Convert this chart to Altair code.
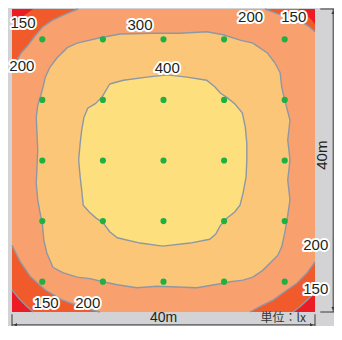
import altair as alt
import pandas as pd

# ---------------- data (metres, y measured from the top wall) ----------------
room_size = 40

pt_x = [4, 12, 20, 28, 36]
pt_y = [4, 12, 20, 28, 36]

# closed iso-lux contours
c400 = [(12.9, 9.9), (14.7, 9.4), (17.8, 9.0), (20.5, 8.7), (23.1, 9.0), (25.7, 9.4),
        (26.8, 10.3), (27.5, 11.1), (28.4, 11.7), (29.4, 12.5), (30.4, 13.7), (30.8, 15.6),
        (31.0, 17.7), (31.0, 19.9), (30.9, 22.2), (30.5, 24.3), (30.1, 25.9), (29.4, 26.8),
        (28.4, 27.6), (27.5, 28.6), (26.9, 29.7), (26.1, 30.4), (23.5, 30.9), (19.9, 31.3),
        (16.9, 30.9), (13.9, 30.2), (12.9, 29.4), (12.0, 28.2), (11.1, 27.6), (10.2, 26.8),
        (9.4, 25.9), (9.2, 23.9), (9.0, 22.2), (8.8, 19.9), (9.0, 17.7), (9.2, 16.0),
        (9.5, 14.3), (10.0, 13.1), (11.0, 12.5), (11.9, 11.6)]

c300 = [(3.8, 11.4), (4.1, 10.3), (4.4, 9.0), (5.0, 7.7), (5.9, 6.5), (7.3, 5.1), (8.6, 4.5),
        (11.6, 3.8), (14.3, 3.3), (18.6, 3.2), (22.2, 3.2), (25.7, 3.0), (27.9, 3.4), (30.1, 4.1),
        (31.8, 4.5), (33.7, 5.8), (34.7, 7.1), (35.4, 8.4), (35.6, 10.3), (36.0, 12.0),
        (36.7, 14.7), (36.4, 17.3), (36.7, 19.9), (36.4, 22.6), (36.7, 25.2), (36.3, 27.9),
        (36.0, 29.6), (35.6, 31.4), (35.1, 32.5), (34.5, 33.1), (33.1, 34.5), (31.8, 35.4),
        (30.5, 35.8), (28.8, 36.0), (27.9, 36.2), (24.4, 36.8), (21.8, 36.7), (19.1, 36.6),
        (16.5, 36.8), (13.9, 36.4), (12.0, 36.0), (10.3, 35.6), (8.6, 35.4), (6.7, 34.8),
        (5.4, 34.1), (4.6, 32.2), (4.2, 30.5), (4.0, 28.2), (3.7, 26.9), (3.4, 25.2),
        (3.2, 23.0), (3.3, 20.9), (3.4, 18.6), (3.3, 16.4), (3.2, 14.3), (3.4, 12.7)]

# corner contours (open curves running wall to wall)
c200_tl = [(8.7, 0), (7.0, 0.7), (5.3, 1.5), (4.0, 2.4), (3.0, 3.6), (2.1, 4.8), (1.2, 5.8), (0.5, 7.0), (0, 8.4)]
c200_tr = [(33.4, 0), (35.0, 0.6), (36.6, 1.1), (38.0, 1.6), (39.2, 2.3), (40, 3.0)]
c200_br = [(40, 33.4), (38.9, 34.9), (37.6, 36.2), (36.3, 37.1), (34.5, 38.4), (32.7, 39.3), (31.4, 40)]
c200_bl = [(0, 31.2), (1.1, 33.4), (2.4, 35.3), (4.4, 37.1), (6.6, 38.4), (9.0, 39.3), (11.6, 40)]

c150_tl = [(2.8, 0), (1.7, 0.8), (0.8, 1.7), (0, 2.8)]
c150_tr = [(37.8, 0), (38.6, 0.6), (39.4, 1.3), (40, 2.0)]
c150_br = [(40, 37.4), (39.0, 38.4), (38.0, 39.3), (37.1, 40)]
c150_bl = [(0, 37.1), (0.9, 38.2), (1.9, 39.2), (2.8, 40)]

corners = {"tl": (0, 0), "tr": (40, 0), "br": (40, 40), "bl": (0, 40)}

# contour labels
lab_text = ["150", "200", "300", "400", "200", "150", "200", "150", "150", "200"]
lab_x = [1.45, 1.3, 16.9, 20.5, 31.5, 37.2, 40.1, 40.1, 4.5, 10.0]
lab_y = [1.85, 7.5, 2.1, 7.8, 1.05, 1.05, 31.2, 37.0, 38.8, 38.8]

# dimension annotations
dim_text = ["40m", "40m", "単位：lx"]

# ---------------- geometry helpers ----------------
def poly(coords):
    ring = [list(p) for p in coords] + [list(coords[0])]
    return {"type": "Feature", "properties": {}, "geometry": {"type": "Polygon", "coordinates": [ring]}}


def line(coords):
    return {"type": "Feature", "properties": {}, "geometry": {"type": "LineString", "coordinates": [list(p) for p in coords]}}


square = [(0, 0), (room_size, 0), (room_size, room_size), (0, room_size)]

band150 = [poly([corners[k]] + c) for k, c in
           [("tl", c200_tl), ("tr", c200_tr), ("br", c200_br), ("bl", c200_bl)]]
band0 = [poly([corners[k]] + c) for k, c in
         [("tl", c150_tl), ("tr", c150_tr), ("br", c150_br), ("bl", c150_bl)]]

iso_lines = [line(c400 + [c400[0]]), line(c300 + [c300[0]]),
             line(c200_tl), line(c200_tr), line(c200_br), line(c200_bl),
             line(c150_br), line(c150_bl)]

# dimension lines (m)
off_b = 41.7   # bottom dimension line
off_r = 42.4   # right dimension line
dim_lines = [
    line([(0, off_b), (room_size, off_b)]),
    line([(0, 40.3), (0, 43)]),
    line([(room_size, 40.3), (room_size, 43)]),
    line([(off_r, 0), (off_r, room_size)]),
    line([(40.7, 0), (43.9, 0)]),
    line([(40.7, room_size), (43.9, room_size)]),
]

# ---------------- colours ----------------
GRAY_BG = "#D3D3D5"
C_RED = "#EC1C24"
C_ORED = "#F15B2C"
C_ORANGE = "#F9A06F"
C_LORANGE = "#FCC679"
C_YELLOW = "#FEDF7E"
C_LINE = "#8D98A5"
C_DOT = "#1FB042"
C_TXT = "#231F20"
C_DIM = "#3A3A3C"


def shapes(features, **kw):
    return alt.Chart(alt.Data(values=features)).mark_geoshape(clip=False, **kw)


layers = [
    shapes([poly(square)], fill=C_ORANGE, strokeWidth=0),
    shapes(band150, fill=C_ORED, strokeWidth=0),
    shapes(band0, fill=C_RED, strokeWidth=0),
    shapes([poly(c300)], fill=C_LORANGE, strokeWidth=0),
    shapes([poly(c400)], fill=C_YELLOW, strokeWidth=0),
    shapes(iso_lines, filled=False, stroke=C_LINE, strokeWidth=1.4),
]

dots = pd.DataFrame([(x, y) for y in pt_y for x in pt_x], columns=["x", "y"])
layers.append(
    alt.Chart(dots).mark_circle(size=38, color=C_DOT, opacity=1, clip=False).encode(
        longitude="x:Q", latitude="y:Q")
)

labels = pd.DataFrame({"t": lab_text, "x": lab_x, "y": lab_y})
txt_kw = dict(font="Liberation Sans", fontSize=15, align="center", baseline="middle", clip=False)
layers.append(
    alt.Chart(labels).mark_text(fill="white", stroke="white", strokeWidth=4,
                                strokeJoin="round", **txt_kw).encode(
        longitude="x:Q", latitude="y:Q", text="t:N")
)
layers.append(
    alt.Chart(labels).mark_text(fill=C_TXT, **txt_kw).encode(
        longitude="x:Q", latitude="y:Q", text="t:N")
)

# dimension lines and arrowheads
layers.append(shapes(dim_lines, filled=False, stroke=C_DIM, strokeWidth=1))
arrows = pd.DataFrame({
    "x": [0.45, 39.55, off_r, off_r],
    "y": [off_b, off_b, 0.45, 39.55],
    "s": ["triangle-left", "triangle-right", "triangle-up", "triangle-down"],
})
layers.append(
    alt.Chart(arrows).mark_point(filled=True, color=C_DIM, size=14, opacity=1, clip=False).encode(
        longitude="x:Q", latitude="y:Q", shape=alt.Shape("s:N", scale=None))
)

dims = pd.DataFrame({"t": dim_text, "x": [20.0, 40.9, 38.8], "y": [40.75, 19.3, 40.75]})
layers.append(
    alt.Chart(dims.iloc[[0]]).mark_text(font="Liberation Sans", fontSize=14, fill=C_TXT,
                                        align="center", baseline="middle", clip=False).encode(
        longitude="x:Q", latitude="y:Q", text="t:N")
)
layers.append(
    alt.Chart(dims.iloc[[1]]).mark_text(font="Liberation Sans", fontSize=15, fill=C_TXT,
                                        align="center", baseline="middle", angle=270,
                                        clip=False).encode(
        longitude="x:Q", latitude="y:Q", text="t:N")
)
layers.append(
    alt.Chart(dims.iloc[[2]]).mark_text(font="Noto Sans CJK JP", fontSize=12, fill="#333333",
                                        align="right", baseline="middle", clip=False).encode(
        longitude="x:Q", latitude="y:Q", text="t:N")
)

px_per_m = 303 / room_size

chart = alt.layer(*layers).project(
    type="identity", scale=px_per_m, translate=[0, 0]
).properties(
    width=303, height=303, autosize="none",
    padding={"left": 4, "top": 1, "right": 19, "bottom": 14},
).configure(background=GRAY_BG).configure_view(strokeOpacity=0)

chart.save("out.html", embed_options={"renderer": "svg", "actions": False})
